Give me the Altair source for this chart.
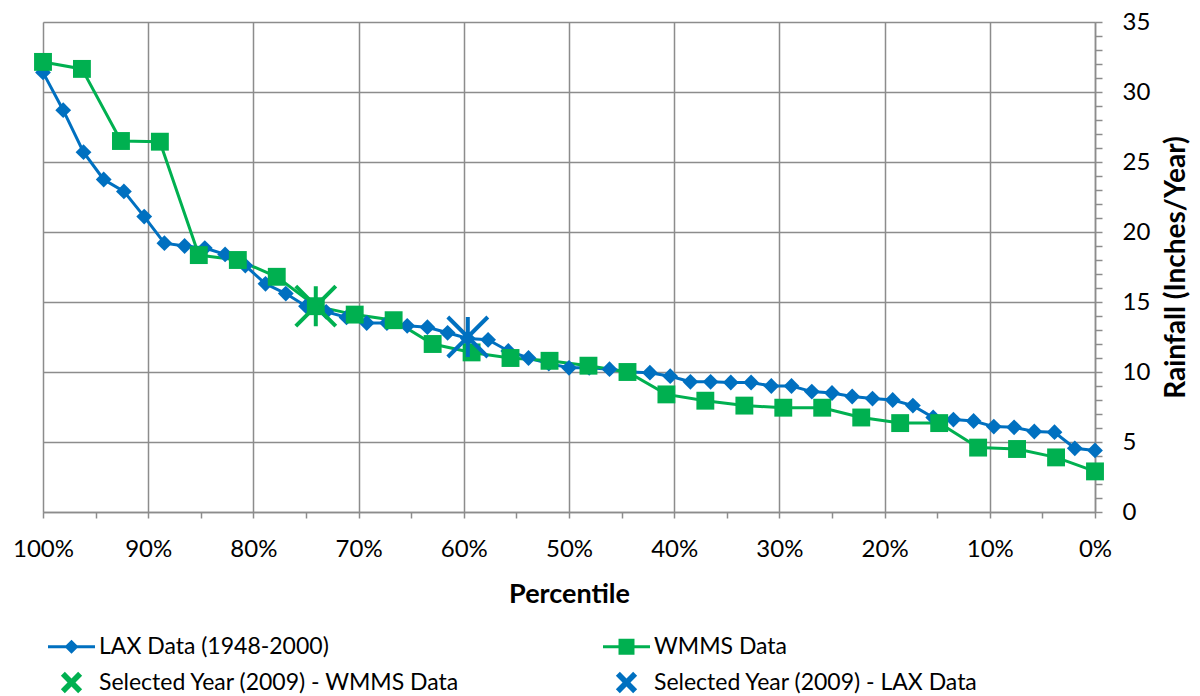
import math
import altair as alt
import pandas as pd

# ---------------- data ----------------
lax_pct = [100, 98.08, 96.15, 94.23, 92.31, 90.38, 88.46, 86.54, 84.62, 82.69,
           80.77, 78.85, 76.92, 75.00, 73.08, 71.15, 69.23, 67.31, 65.38, 63.46,
           61.54, 59.62, 57.69, 55.77, 53.85, 51.92, 50.00, 48.08, 46.15, 44.23,
           42.31, 40.38, 38.46, 36.54, 34.62, 32.69, 30.77, 28.85, 26.92, 25.00,
           23.08, 21.15, 19.23, 17.31, 15.38, 13.46, 11.54, 9.62, 7.69, 5.77,
           3.85, 1.92, 0]
lax_rain = [31.4, 28.7, 25.7, 23.75, 22.9, 21.1, 19.2, 19.0, 18.85, 18.4,
            17.6, 16.3, 15.6, 14.7, 14.3, 13.9, 13.5, 13.5, 13.3, 13.2,
            12.8, 12.4, 12.3, 11.5, 11.0, 10.6, 10.3, 10.3, 10.2, 10.0,
            9.95, 9.7, 9.3, 9.3, 9.25, 9.25, 9.0, 9.0, 8.6, 8.5,
            8.25, 8.1, 8.0, 7.6, 6.75, 6.6, 6.5, 6.1, 6.05, 5.75,
            5.7, 4.55, 4.4]

wmms_pct = [100, 96.30, 92.59, 88.89, 85.19, 81.48, 77.78, 74.07, 70.37, 66.67,
            62.96, 59.26, 55.56, 51.85, 48.15, 44.44, 40.74, 37.04, 33.33, 29.63,
            25.93, 22.22, 18.52, 14.81, 11.11, 7.41, 3.70, 0]
wmms_rain = [32.15, 31.65, 26.5, 26.45, 18.35, 18.0, 16.8, 14.7, 14.1, 13.7,
             12.0, 11.4, 11.0, 10.8, 10.45, 10.0, 8.4, 7.95, 7.6, 7.45,
             7.45, 6.75, 6.35, 6.35, 4.6, 4.5, 3.9, 2.9]

series_names = ["LAX Data (1948-2000)", "WMMS Data",
                "Selected Year (2009) - WMMS Data", "Selected Year (2009) - LAX Data"]
sel_pct = [74.07, 59.62]
sel_rain = [14.7, 12.5]
sel_series = [series_names[2], series_names[3]]

x_ticks = [0, 5, 10, 15, 20, 25, 30, 35, 40, 45, 50, 55, 60, 65, 70, 75, 80, 85, 90, 95, 100]
y_ticks = list(range(0, 36))

BLUE = "#0070C0"
GREEN = "#00B050"
GRID = "#8C8C8C"
FONT = "Lato"

lax_df = pd.DataFrame({"pct": lax_pct, "rain": lax_rain})
wmms_df = pd.DataFrame({"pct": wmms_pct, "rain": wmms_rain})
sel_df = pd.DataFrame({"pct": sel_pct, "rain": sel_rain, "series": sel_series})
leg_df = pd.DataFrame({"pct": [lax_pct[0], wmms_pct[0], sel_pct[0], sel_pct[1]],
                       "rain": [lax_rain[0], wmms_rain[0], sel_rain[0], sel_rain[1]],
                       "series": series_names})

# ---------------- shapes ----------------
STAR = "M0,-1L0,1M-1,-1L1,1M1,-1L-1,1"


def x_path(a, t):
    pts = [(t, -a), (t, -t), (a, -t), (a, t), (t, t), (t, a), (-t, a), (-t, t),
           (-a, t), (-a, -t), (-t, -t), (-t, -a)]
    rot = [((x - y) / math.sqrt(2), (x + y) / math.sqrt(2)) for x, y in pts]
    return "M" + "L".join(f"{x:.3f},{y:.3f}" for x, y in rot) + "Z"


lt = 0.064
leg_lax = (f"M-1,{-lt}H1V{lt}H-1Z"
           "M0,-0.3L0.3,0L0,0.3L-0.3,0Z")
leg_wmms = (f"M-1,{-lt}H1V{lt}H-1Z"
            "M-0.34,-0.34H0.34V0.34H-0.34Z")
leg_x = x_path(0.52, 0.12)

# ---------------- scales ----------------
xscale = alt.Scale(domain=[0, 100], reverse=True, nice=False, zero=False)
yscale = alt.Scale(domain=[0, 35], nice=False)

xaxis = alt.Axis(
    values=x_ticks,
    tickCount=len(x_ticks),
    labelExpr="datum.value % 10 == 0 ? datum.value + '%' : ''",
    title="Percentile",
    grid=True,
    gridColor=GRID,
    gridWidth=1.5,
    gridOpacity={"condition": {"test": "datum.value % 10 === 0", "value": 1}, "value": 0},
    domainColor=GRID,
    domainWidth=1.5,
    tickColor=GRID,
    tickWidth=1.5,
    tickSize=6,
    labelFont=FONT,
    labelFontSize=24,
    labelColor="#000000",
    labelPadding=19,
    labelFlush=False,
    labelOverlap=False,
    titleFont=FONT,
    titleFontSize=27,
    titleFontWeight="bold",
    titleColor="#000000",
    titlePadding=20,
)

yaxis = alt.Axis(
    orient="right",
    values=y_ticks,
    tickCount=len(y_ticks),
    labelExpr="datum.value % 5 == 0 ? datum.value : ''",
    title="Rainfall (Inches/Year)",
    grid=True,
    gridColor=GRID,
    gridWidth=1.5,
    gridOpacity={"condition": {"test": "datum.value % 5 === 0", "value": 1}, "value": 0},
    domainColor=GRID,
    domainWidth=1.5,
    tickColor=GRID,
    tickWidth=1.5,
    tickSize=7,
    labelFont=FONT,
    labelFontSize=24,
    labelColor="#000000",
    labelPadding=20,
    labelAlign="left",
    labelFlush=False,
    labelOverlap=False,
    titleFont=FONT,
    titleFontSize=28,
    titleFontWeight="bold",
    titleColor="#000000",
    titleAngle=270,
    titlePadding=41,
)

X = alt.X("pct:Q", scale=xscale, axis=xaxis)
Y = alt.Y("rain:Q", scale=yscale, axis=yaxis)
Xn = alt.X("pct:Q", scale=xscale)
Yn = alt.Y("rain:Q", scale=yscale)

lax_line = alt.Chart(lax_df).mark_line(color=BLUE, strokeWidth=3).encode(x=X, y=Y)
wmms_line = alt.Chart(wmms_df).mark_line(color=GREEN, strokeWidth=3).encode(x=Xn, y=Yn)
lax_pts = alt.Chart(lax_df).mark_point(shape="diamond", filled=True, color=BLUE,
                                       size=250, opacity=1).encode(x=Xn, y=Yn)
wmms_pts = alt.Chart(wmms_df).mark_point(shape="square", filled=True, color=GREEN,
                                         size=320, opacity=1).encode(x=Xn, y=Yn)
stars = alt.Chart(sel_df).mark_point(shape=STAR, filled=False, strokeWidth=4,
                                     size=1600, opacity=1).encode(
    x=Xn, y=Yn,
    stroke=alt.Stroke("series:N", scale=alt.Scale(domain=sel_series, range=[GREEN, BLUE]),
                      legend=None),
)

legend = alt.Legend(
    title=None,
    orient="none",
    legendX=5,
    legendY=601,
    direction="horizontal",
    columns=2,
    columnPadding=143,
    rowPadding=-10,
    labelFont=FONT,
    labelFontSize=23,
    labelColor="#000000",
    labelOffset=4,
    labelLimit=600,
    symbolSize=2209,
    symbolStrokeWidth=0,
    padding=0,
)

leg_layer = alt.Chart(leg_df).mark_point(filled=True, opacity=1).encode(
    x=Xn, y=Yn,
    shape=alt.Shape("series:N",
                    scale=alt.Scale(domain=series_names,
                                    range=[leg_lax, leg_wmms, leg_x, leg_x]),
                    legend=legend),
    color=alt.Color("series:N",
                    scale=alt.Scale(domain=series_names,
                                    range=[BLUE, GREEN, GREEN, BLUE]),
                    legend=legend),
).transform_filter("datum.rain < 0")

chart = alt.layer(lax_line, wmms_line, lax_pts, wmms_pts, stars, leg_layer).properties(
    width=1052,
    height=490,
    padding={"left": 35, "top": 14, "right": 97, "bottom": 184},
    autosize=alt.AutoSizeParams(type="none"),
).configure_view(stroke=None).configure(background="white")

chart.save("out.html", embed_options={"renderer": "svg", "actions": False})
